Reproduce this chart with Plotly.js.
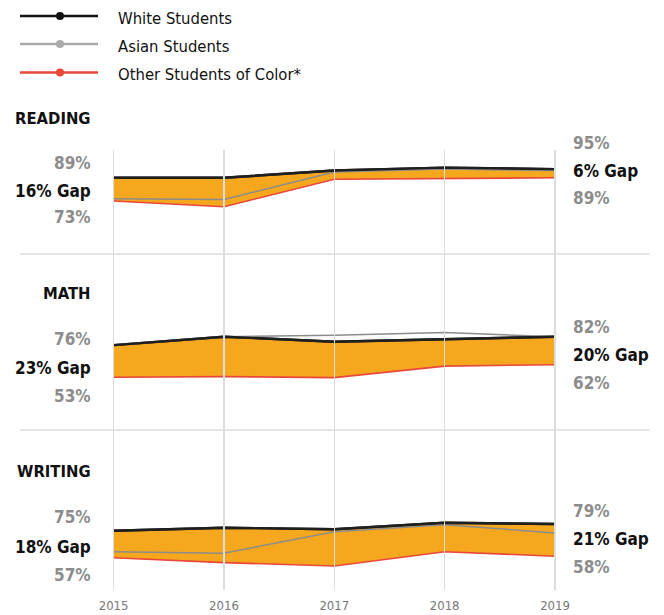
<!DOCTYPE html>
<html>
<head>
<meta charset="utf-8">
<script src="https://cdn.plot.ly/plotly-3.0.1.min.js"></script>
<style>html,body{margin:0;padding:0;background:#fff;}#chart{width:664px;height:615px;}</style>
</head>
<body>
<div id="chart"></div>
<script>
// ---- data ----
var years = [2015, 2016, 2017, 2018, 2019];
var yearLabels = ["2015", "2016", "2017", "2018", "2019"];

var seriesNames = ["White Students", "Asian Students", "Other Students of Color*"];

var readingWhite = [89, 89, 94, 96, 95];
var readingAsian = [74.5, 74, 93, 95, 94];
var readingOther = [73, 69, 88, 88.5, 89];

var mathWhite = [76, 82, 78.4, 80.4, 82];
var mathAsian = [76, 82, 83, 85, 82];
var mathOther = [53, 53.5, 52.8, 61, 62];

var writingWhite = [75, 77, 76, 80.3, 79.5];
var writingAsian = [61, 60, 74.3, 79, 73.5];
var writingOther = [57, 53.7, 51.5, 61, 58];

var panelTitles = ["READING", "MATH", "WRITING"];
var startTop = ["89%", "76%", "75%"];
var startGap = ["16% Gap", "23% Gap", "18% Gap"];
var startBottom = ["73%", "53%", "57%"];
var endTop = ["95%", "82%", "79%"];
var endGap = ["6% Gap", "20% Gap", "21% Gap"];
var endBottom = ["89%", "62%", "58%"];

// ---- layout helpers ----
var W = 664, H = 615;
var FONT = "'DejaVu Sans Condensed', 'Liberation Sans Narrow', sans-serif";
function px(x) { return x / W; }
function py(y) { return 1 - y / H; }
function panelAxis(topPx, botPx, refVal, refPx, ppu) {
  return {
    domain: [py(botPx), py(topPx)],
    range: [refVal - (botPx - refPx) / ppu, refVal + (refPx - topPx) / ppu],
    visible: false, showgrid: false, zeroline: false, fixedrange: true, anchor: "x"
  };
}

var colWhite = "#1f1f1f", colAsian = "#8c8c8c", colOther = "#e8473a", colFill = "#f5a81d";

var panels = [
  {ax: "y", w: readingWhite, a: readingAsian, o: readingOther},
  {ax: "y2", w: mathWhite, a: mathAsian, o: mathOther},
  {ax: "y3", w: writingWhite, a: writingAsian, o: writingOther}
];

var traces = [];
panels.forEach(function (p) {
  traces.push({x: years, y: p.w, yaxis: p.ax, xaxis: "x", mode: "lines", name: seriesNames[0],
    line: {color: colWhite, width: 2.4}, showlegend: false, hoverinfo: "skip"});
  traces.push({x: years, y: p.o, yaxis: p.ax, xaxis: "x", mode: "lines", name: seriesNames[2],
    line: {color: colOther, width: 1.6}, fill: "tonexty", fillcolor: colFill, showlegend: false, hoverinfo: "skip"});
  traces.push({x: years, y: p.a, yaxis: p.ax, xaxis: "x", mode: "lines", name: seriesNames[1],
    line: {color: colAsian, width: 1.5}, showlegend: false, hoverinfo: "skip"});
  // white line again on top
  traces.push({x: years, y: p.w, yaxis: p.ax, xaxis: "x", mode: "lines", name: seriesNames[0],
    line: {color: colWhite, width: 2.4}, showlegend: false, hoverinfo: "skip"});
});
traces.push({x: [years[0]], y: [0], xaxis: "x", yaxis: "y4", mode: "markers", marker: {opacity: 0}, showlegend: false, hoverinfo: "skip"});

var x0px = 113.6, ppy = 110.35;

var annotations = [];
var shapes = [];

// legend
var legendY = [16, 44, 72.5];
var legendCol = ["#111111", "#aaaaaa", "#e8473a"];
for (var i = 0; i < 3; i++) {
  shapes.push({type: "line", xref: "paper", yref: "paper", x0: px(20), x1: px(98), y0: py(legendY[i]), y1: py(legendY[i]),
    line: {color: legendCol[i], width: 2.5}});
  shapes.push({type: "circle", xref: "paper", yref: "paper", x0: px(56), x1: px(64), y0: py(legendY[i] + 4), y1: py(legendY[i] - 4),
    fillcolor: legendCol[i], line: {color: legendCol[i], width: 0}});
  annotations.push({xref: "paper", yref: "paper", x: px(116), y: py(legendY[i] + 2), xanchor: "left", yanchor: "middle",
    text: seriesNames[i], showarrow: false, font: {family: FONT, size: 16.5, color: "#111"}});
}

// separators
[254, 430].forEach(function (s) {
  shapes.push({type: "line", xref: "paper", yref: "paper", x0: px(20), x1: px(650), y0: py(s), y1: py(s),
    line: {color: "#dcdcdc", width: 1.5}, layer: "below"});
});

// panel labels
var titleY = [118.3, 293.3, 471.7];
var sTopY = [163.3, 339.3, 516.7], sGapY = [191, 368, 546.5], sBotY = [216.7, 396, 575];
var eTopY = [142.7, 326.7, 511], eGapY = [171, 355, 539.3], eBotY = [198.3, 383.3, 566.7];
var LS = 17, GS = 17;
for (var k = 0; k < 3; k++) {
  annotations.push({xref: "paper", yref: "paper", x: px(93), y: py(titleY[k]), xanchor: "right", yanchor: "middle",
    text: "<b>" + panelTitles[k] + "</b>", showarrow: false, font: {family: FONT, size: 16.5, color: "#111"}});
  annotations.push({xref: "paper", yref: "paper", x: px(93), y: py(sTopY[k]), xanchor: "right", yanchor: "middle",
    text: "<b>" + startTop[k] + "</b>", showarrow: false, font: {family: FONT, size: LS, color: "#8c8c8c"}});
  annotations.push({xref: "paper", yref: "paper", x: px(93), y: py(sGapY[k]), xanchor: "right", yanchor: "middle",
    text: "<b>" + startGap[k] + "</b>", showarrow: false, font: {family: FONT, size: GS, color: "#111"}});
  annotations.push({xref: "paper", yref: "paper", x: px(93), y: py(sBotY[k]), xanchor: "right", yanchor: "middle",
    text: "<b>" + startBottom[k] + "</b>", showarrow: false, font: {family: FONT, size: LS, color: "#8c8c8c"}});
  annotations.push({xref: "paper", yref: "paper", x: px(571), y: py(eTopY[k]), xanchor: "left", yanchor: "middle",
    text: "<b>" + endTop[k] + "</b>", showarrow: false, font: {family: FONT, size: LS, color: "#8c8c8c"}});
  annotations.push({xref: "paper", yref: "paper", x: px(571), y: py(eGapY[k]), xanchor: "left", yanchor: "middle",
    text: "<b>" + endGap[k] + "</b>", showarrow: false, font: {family: FONT, size: GS, color: "#111"}});
  annotations.push({xref: "paper", yref: "paper", x: px(571), y: py(eBotY[k]), xanchor: "left", yanchor: "middle",
    text: "<b>" + endBottom[k] + "</b>", showarrow: false, font: {family: FONT, size: LS, color: "#8c8c8c"}});
}

var layout = {
  width: W, height: H,
  margin: {l: 0, r: 0, t: 0, b: 0, pad: 0},
  paper_bgcolor: "#ffffff", plot_bgcolor: "rgba(0,0,0,0)",
  showlegend: false,
  xaxis: {
    domain: [0, 1], anchor: "y4",
    range: [years[0] - x0px / ppy, years[0] + (W - x0px) / ppy],
    tickvals: years, ticktext: yearLabels,
    showgrid: true, gridcolor: "#dcdcdc", gridwidth: 1.5,
    zeroline: false, showline: false, ticks: "",
    tickfont: {family: FONT, size: 13, color: "#777"},
    ticklabelstandoff: 6, fixedrange: true
  },
  yaxis: panelAxis(150, 250, 73, 201, 1.45),
  yaxis2: panelAxis(262, 425, 53, 377.3, 1.4),
  yaxis3: panelAxis(436, 590, 57, 557.7, 1.5),
  yaxis4: {domain: [py(590), py(158)], range: [0, 1], visible: false, showgrid: false, zeroline: false, fixedrange: true},
  shapes: shapes,
  annotations: annotations
};

Plotly.newPlot("chart", traces, layout, {displayModeBar: false, staticPlot: true});
</script>
</body>
</html>
